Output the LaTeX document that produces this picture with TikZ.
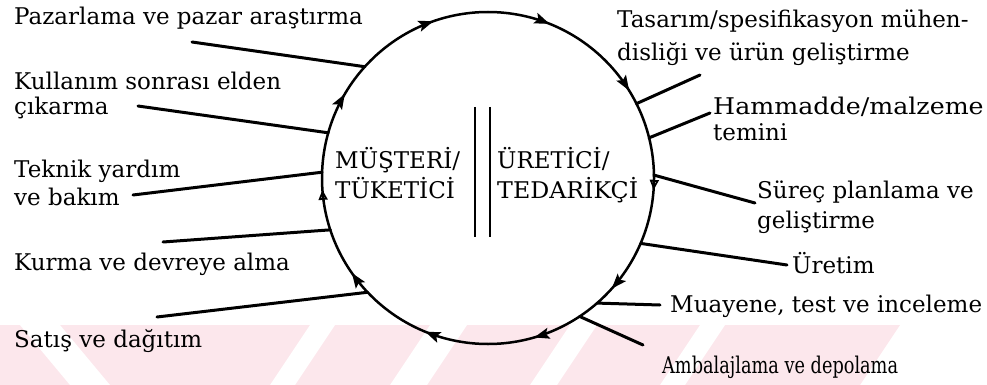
\documentclass[tikz,border=0pt]{standalone}
\usepackage{fontspec}
\usepackage{graphicx}
\setmainfont{DejaVu Serif}
\usetikzlibrary{arrows.meta,decorations.markings,calc}
\definecolor{wm}{RGB}{252,231,236}
\newcommand{\twol}[3]{\vtop{\baselineskip=#1pt\hbox{#2}\hbox{#3}}}
\tikzset{
  fa/.tip={Stealth[length=15pt,width=11pt,inset=3pt]},
  oa/.tip={Triangle[open,length=10pt,width=9pt,line width=1.8pt]}
}
\begin{document}
\begin{tikzpicture}[x=1pt,y=-1pt,
  lbl/.style={inner sep=0pt, anchor=base west, font=\fontsize{23}{28}\selectfont},
  spoke/.style={line width=3pt, line cap=round},
  ring/.style={line width=2.5pt},
  sep/.style={line width=2.6pt},
  band/.style={fill=wm, draw=none},
  gap/.style={fill=white, draw=none}
]
\useasboundingbox (0,0) rectangle (987,385);
% watermark band
\fill[band] (0,325) -- (900,325) -- (860,385) -- (0,385) -- cycle;
\fill[gap] (20,325) -- (60,325) -- (110,385) -- (70,385) -- cycle;
\fill[gap] (310,325) -- (335,325) -- (295,385) -- (270,385) -- cycle;
\fill[gap] (430,325) -- (467,325) -- (427,385) -- (390,385) -- cycle;
\fill[gap] (570,325) -- (597,325) -- (557,385) -- (530,385) -- cycle;
\fill[gap] (700,325) -- (725,325) -- (685,385) -- (660,385) -- cycle;

\coordinate (C) at (488,178);
% ring with arrows
\draw[ring, postaction={decorate, decoration={markings,
   mark=at position 0.0114 with {\arrow{oa}},
   mark=at position 0.1161 with {\arrow{fa}},
   mark=at position 0.2050 with {\arrow{fa}},
   mark=at position 0.3117 with {\arrow{fa}},
   mark=at position 0.4031 with {\arrow{fa}},
   mark=at position 0.4886 with {\arrow{oa}},
   mark=at position 0.5844 with {\arrow{fa}},
   mark=at position 0.6967 with {\arrow{fa}},
   mark=at position 0.8103 with {\arrow{fa}},
   mark=at position 0.9117 with {\arrow{fa}}}}]
  (C) ++(0:166) arc[start angle=0, end angle=360, radius=166];

% separator
\coordinate (s1t) at (475,107); \coordinate (s1b) at (475,237);
\coordinate (s2t) at (490,107); \coordinate (s2b) at (490,237);
\draw[sep] (s1t) -- (s1b);
\draw[sep] (s2t) -- (s2b);

% centre labels
\node[lbl] (mus) at (335,168) {\twol{30}{MÜŞTERİ/}{TÜKETİCİ}};
\node[lbl] (ure) at (497,168) {\twol{30}{ÜRETİCİ/}{\scalebox{1.03}[1]{TEDARİKÇİ}}};

% left labels
\node[lbl] (paz) at (14,25) {Pazarlama ve pazar araştırma};
\node[lbl] (kul) at (14,90) {\twol{25}{Kullanım sonrası elden}{çıkarma}};
\node[lbl] (tek) at (14,177) {\twol{28}{Teknik yardım}{ve bakım}};
\node[lbl] (kur) at (14,270) {Kurma ve devreye alma};
\node[lbl] (sat) at (14,347) {Satış ve dağıtım};
% right labels
\node[lbl] (tas) at (617,28) {\twol{33}{Tasarım/spesifikasyon mühen-}{disliği ve ürün geliştirme}};
\node[lbl] (ham) at (713,115) {\twol{25}{\scalebox{1.1}[1]{Hammadde/malzeme}}{temini}};
\node[lbl] (sur) at (757,198) {\twol{30}{Süreç planlama ve}{geliştirme}};
\node[lbl] (urt) at (792,273) {Üretim};
\node[lbl] (mua) at (670,312) {Muayene, test ve inceleme};
\node[lbl] (amb) at (662,373) {\scalebox{0.77}[1]{Ambalajlama ve depolama}};

% spokes: inner ends on ring, outer ends near labels
\coordinate (pazI) at ($(C)+(222.1:166)$); \coordinate (pazO) at (192,42);
\coordinate (kulI) at ($(C)+(195.8:166)$); \coordinate (kulO) at (138,106);
\coordinate (tekI) at ($(C)+(182:166)$);   \coordinate (tekO) at (133,195);
\coordinate (kurI) at ($(C)+(161.8:166)$); \coordinate (kurO) at (163,242);
\coordinate (satI) at ($(C)+(136.5:166)$); \coordinate (satO) at (157,317);
\coordinate (tasI) at ($(C)+(333.4:166)$); \coordinate (tasO) at (700,75);
\coordinate (hamI) at ($(C)+(346:166)$);   \coordinate (hamO) at (710,113);
\coordinate (surI) at ($(C)+(359:166)$);   \coordinate (surO) at (755,203);
\coordinate (urtI) at ($(C)+(23.2:166)$);  \coordinate (urtO) at (787,265);
\coordinate (muaI) at ($(C)+(48.9:166)$);  \coordinate (muaO) at (660,305);
\coordinate (ambI) at ($(C)+(56.5:166)$);  \coordinate (ambO) at (643,345);
\foreach \s in {paz,kul,tek,kur,sat,tas,ham,sur,urt,mua,amb}
  \draw[spoke] (\s O) -- (\s I);
\end{tikzpicture}
\end{document}
